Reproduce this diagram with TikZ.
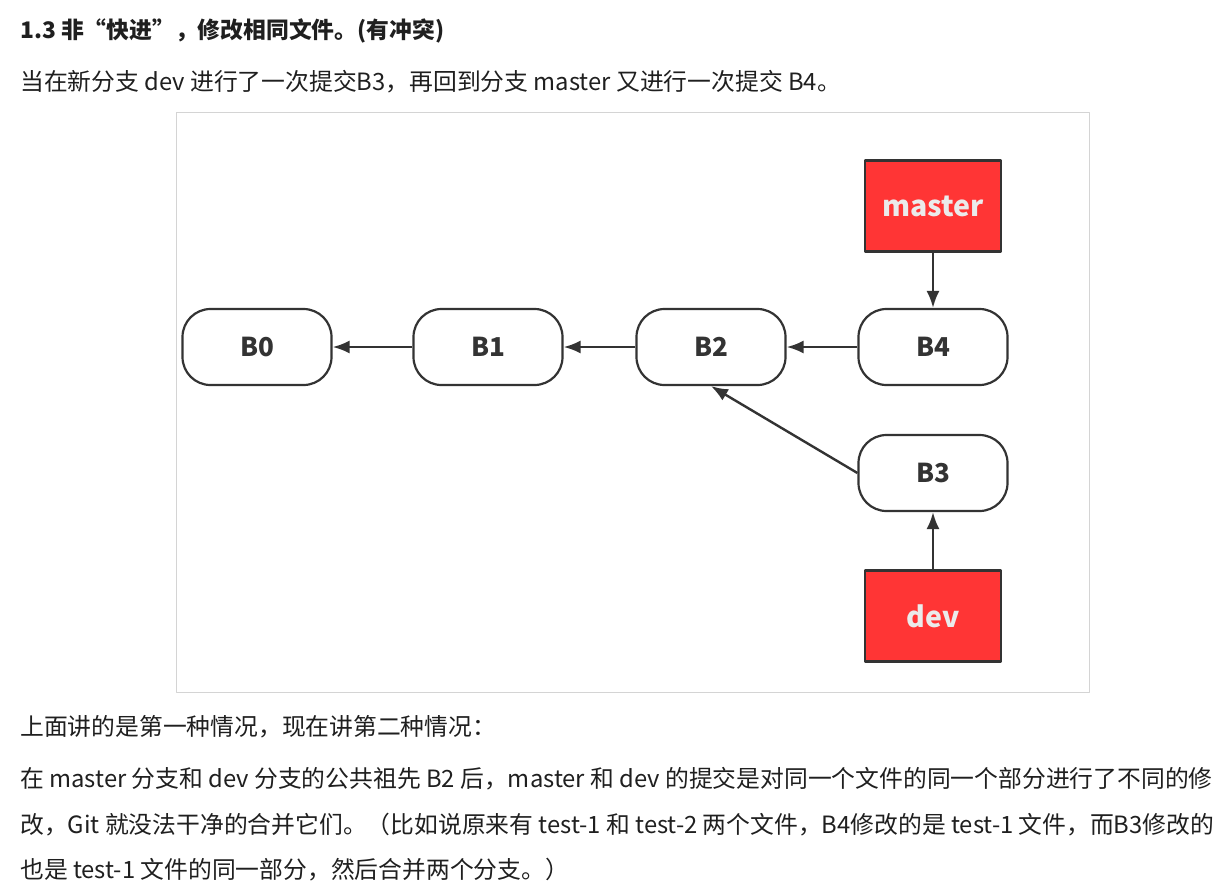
\documentclass[tikz,border=0pt]{standalone}
\usepackage{fontspec}
\setmainfont{Noto Sans CJK SC}
\usetikzlibrary{arrows.meta}
\definecolor{branchred}{HTML}{FF3535}
\definecolor{edgegray}{HTML}{333333}
\definecolor{framegray}{HTML}{D4D4D4}
\tikzset{
  commit/.style={draw=edgegray, line width=2.2pt, fill=white, rounded corners=28pt,
    minimum width=149pt, minimum height=76pt, text=edgegray,
    font=\fontsize{26}{30}\selectfont\bfseries},
  branch/.style={draw=edgegray, line width=2.2pt, fill=branchred,
    minimum width=136pt, minimum height=91pt, text=white!92!black,
    font=\fontsize{28.5}{32}\selectfont\bfseries},
  textline/.style={anchor=base west, inner sep=0pt, text=black!88,
    font=\fontsize{23.8}{28}\selectfont}
}
\begin{document}
\begin{tikzpicture}[x=1pt, y=-1pt, >={Latex[length=17pt,width=13pt]}, line join=round]
            \useasboundingbox (0,0) rectangle (1232,887);
            \draw[framegray, line width=1pt] (176,112) rectangle (1089,692);
            % text above and below the picture
            \node[textline, font=\fontsize{22.8}{26}\selectfont\bfseries] (title) at (20,38) {1.3 非“快进”，修改相同文件。(有冲突)};
            \node[textline] (intro) at (20,90) {当在新分支 dev 进行了一次提交B3，再回到分支 master 又进行一次提交 B4。};
            \node[textline] (para1) at (20,735) {上面讲的是第一种情况，现在讲第二种情况：};
            \node[textline] (para2) at (20,787) {在 master 分支和 dev 分支的公共祖先 B2 后，master 和 dev 的提交是对同一个文件的同一个部分进行了不同的修};
            \node[textline] (para3) at (20,833) {改，Git 就没法干净的合并它们。（比如说原来有 test-1 和 test-2 两个文件，B4修改的是 test-1 文件，而B3修改的};
            \node[textline] (para4) at (20,878) {也是 test-1 文件的同一部分，然后合并两个分支。）};
            % commits
            \node[commit] (b0) at (257,347) {B0};
            \node[commit] (b1) at (488,347) {B1};
            \node[commit] (b2) at (711,347) {B2};
            \node[commit] (b4) at (933,347) {B4};
            \node[commit] (b3) at (933,473) {B3};
            % branches
            \node[branch] (master) at (933,206) {master};
            \node[branch] (dev) at (933,616) {dev};
            \draw[->, edgegray, line width=2.4pt] (b1) -- (b0);
            \draw[->, edgegray, line width=2.4pt] (b2) -- (b1);
            \draw[->, edgegray, line width=2.4pt] (b4) -- (b2);
            \draw[->, edgegray, line width=2.4pt] (b3.west) -- (b2.south);
            \draw[->, edgegray, line width=2.4pt] (master) -- (b4);
            \draw[->, edgegray, line width=2.4pt] (dev) -- (b3);
        \end{tikzpicture}
\end{document}
